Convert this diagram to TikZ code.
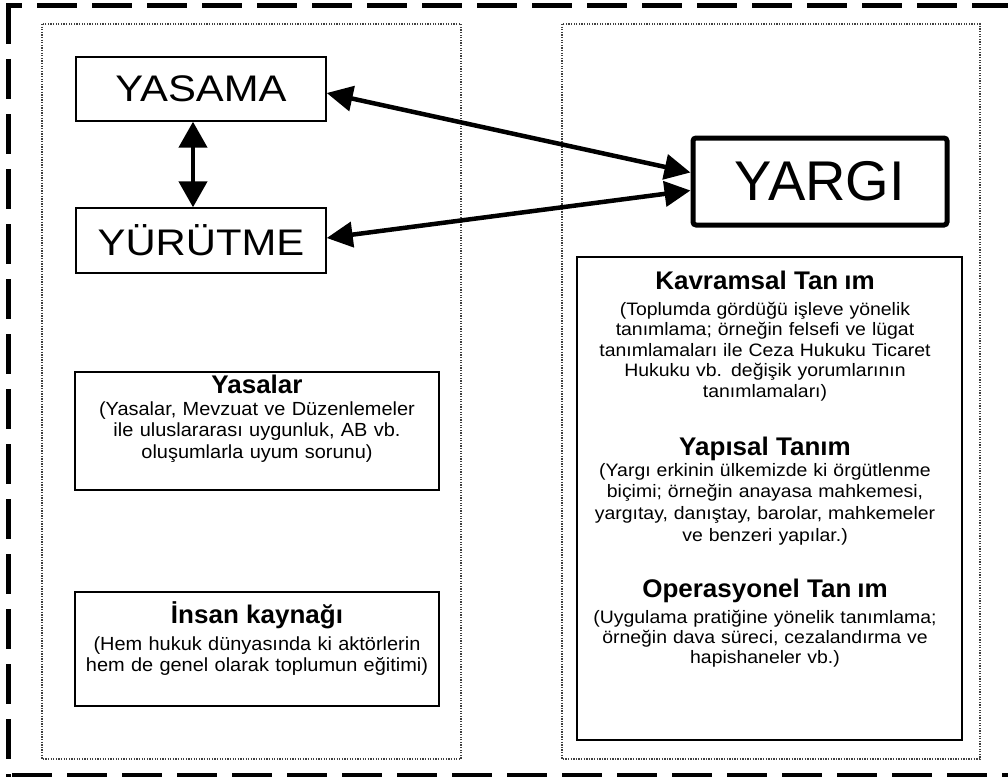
\documentclass[tikz,border=0pt]{standalone}
\usepackage{fontspec}
\setmainfont{Liberation Sans}
\newfontfamily\bodyR[FakeStretch=1.08]{Liberation Sans}
\newfontfamily\bodyL[FakeStretch=1.05]{Liberation Sans}
\newfontfamily\ttlF[FakeStretch=1.02]{Liberation Sans}
\newfontfamily\bigF[FakeStretch=1.13]{Liberation Sans}
\usetikzlibrary{arrows.meta}
\begin{document}
\begin{tikzpicture}[x=1pt,y=-1pt,
  panel/.style={draw=black!75, line width=1.3pt, dash pattern=on 1.3pt off 1.3pt},
  outer/.style={line width=5pt, dash pattern=on 40pt off 15pt},
  box/.style={draw, line width=1.4pt, inner sep=0pt},
  bigtext/.style={font=\bigF\fontsize{37}{40}\selectfont},
  ttl/.style={font=\ttlF\bfseries\fontsize{25.5}{28}\selectfont, anchor=base, inner sep=0pt},
  bodyr/.style={font=\bodyR\fontsize{18}{20.6}\selectfont, align=center, anchor=base, inner sep=0pt, text width=420pt},
  bodyl/.style={font=\bodyL\fontsize{19}{21.7}\selectfont, align=center, anchor=base, inner sep=0pt, text width=420pt},
  dbl/.style={line width=4.5pt, {Triangle[length=26pt,width=28pt]}-{Triangle[length=26pt,width=28pt]}},
  dbl2/.style={line width=4.5pt, {Triangle[length=26pt,width=25pt]}-{Triangle[length=26pt,width=25pt]}}
]
\useasboundingbox (0,0) rectangle (1008,776);
% outer dashed frame
\draw[outer, dash phase=24pt] (6,6) -- (1012,6);
\draw[outer] (8,4) -- (8,778);
\draw[outer] (12,775) -- (1012,775);
% dotted panels
\draw[panel] (42,24) rectangle (461,759);
\draw[panel] (562,24) rectangle (980,759);
% main boxes
\node[box, bigtext, minimum width=250pt, minimum height=64pt] (yasama) at (201,89) {YASAMA};
\node[box, bigtext, minimum width=250pt, minimum height=65pt] (yurutme) at (201,240.5) {YÜRÜTME};
\node[box, line width=5pt, rounded corners=3pt, font=\fontsize{56}{60}\selectfont, minimum width=254pt, minimum height=87pt] (yargi) at (820,181.5) {YARGI};
% arrows
\draw[dbl] ([xshift=-8pt]yasama.south) -- ([xshift=-8pt]yurutme.north);
\draw[dbl2] ([yshift=-4pt]yasama.east) -- ([yshift=9pt]yargi.west);
\draw[dbl2] ([yshift=2.5pt]yurutme.east) -- ([yshift=-9pt]yargi.west);
% left boxes
\node[box, minimum width=364pt, minimum height=118pt] (yasalar) at (257,431) {};
\node[ttl] (yasalart) at (257,393) {Yasalar};
\node[bodyl] (yasalarb) at (257,415) {(Yasalar, Mevzuat ve Düzenlemeler\\ ile uluslararası uygunluk, AB vb.\\ oluşumlarla uyum sorunu)};
\node[box, minimum width=364pt, minimum height=114pt] (insan) at (257,649) {};
\node[ttl] (insant) at (257,623) {İnsan kaynağı};
\node[bodyl] (insanb) at (257,650) {(Hem hukuk dünyasında ki aktörlerin\\ hem de genel olarak toplumun eğitimi)};
% right box
\node[box, minimum width=385pt, minimum height=483pt] (tanim) at (769.5,498.5) {};
\node[ttl] (kavt) at (765,289) {Kavramsal Tan\hspace{6pt}ım};
\node[bodyr] (kavb) at (765,315) {(Toplumda gördüğü işleve yönelik\\ tanımlama; örneğin felsefi ve lügat\\ tanımlamaları ile Ceza Hukuku Ticaret\\ Hukuku vb. değişik yorumlarının\\ tanımlamaları)};
\node[ttl] (yapt) at (765,455) {Yapısal Tanım};
\node[bodyr, font=\bodyR\fontsize{18}{21.7}\selectfont] (yapb) at (765,476) {(Yargı erkinin ülkemizde ki örgütlenme\\ biçimi; örneğin anayasa mahkemesi,\\ yargıtay, danıştay, barolar, mahkemeler\\ ve benzeri yapılar.)};
\node[ttl] (opt) at (765,597) {Operasyonel Tan\hspace{6pt}ım};
\node[bodyr, font=\bodyR\fontsize{18}{20}\selectfont] (opb) at (765,623) {(Uygulama pratiğine yönelik tanımlama;\\ örneğin dava süreci, cezalandırma ve\\ hapishaneler vb.)};
\end{tikzpicture}
\end{document}
